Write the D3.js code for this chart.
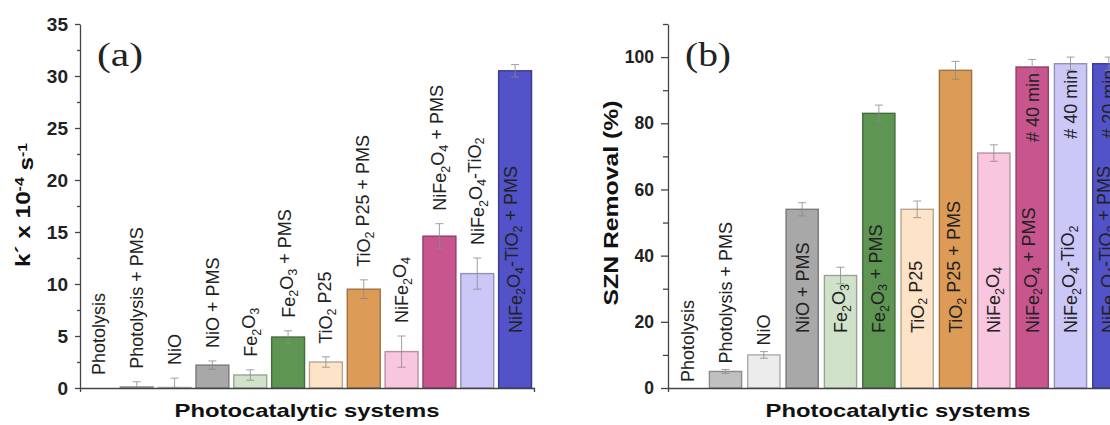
<!DOCTYPE html>
<html>
<head>
<meta charset="utf-8">
<script src="https://cdn.jsdelivr.net/npm/d3@7"></script>
<style>
  body { margin: 0; background: #fff; }
  svg { display: block; font-family: "Liberation Sans", Arial, sans-serif; }
</style>
</head>
<body>
<svg id="chart" width="1110" height="425"></svg>
<script>
// categories, "_" marks a subscript digit
var systems = ["Photolysis", "Photolysis + PMS", "NiO", "NiO + PMS", "Fe_2O_3",
  "Fe_2O_3 + PMS", "TiO_2 P25", "TiO_2 P25 + PMS", "NiFe_2O_4",
  "NiFe_2O_4 + PMS", "NiFe_2O_4-TiO_2", "NiFe_2O_4-TiO_2 + PMS"];

// panel (a): rate constant k' x 10^-4 s^-1
var kValues = [0, 0.1, 0.05, 2.2, 1.25, 4.9, 2.5, 9.5, 3.5, 14.6, 11.0, 30.5];
var kErrors = [0, 0.5, 0.9, 0.4, 0.5, 0.6, 0.5, 0.9, 1.5, 1.2, 1.5, 0.6];

// panel (b): SZN removal %
var removal = [0, 5, 10, 54, 34, 83, 54, 96, 71, 97, 98, 98];
var removalErr = [0, 0.6, 1, 2, 2.5, 2.5, 2.5, 2.7, 2.5, 2.3, 2, 2];
var removalNotes = ["", "", "", "", "", "", "", "", "", "# 40 min", "# 40 min", "# 20 min"];

var kTicks = [0, 5, 10, 15, 20, 25, 30, 35];
var kMinor = [2.5, 7.5, 12.5, 17.5, 22.5, 27.5, 32.5];
var remTicks = [0, 20, 40, 60, 80, 100];
var remMinor = [10, 30, 50, 70, 90, 110];

var colors = ["#ffffff", "#c0c0c0", "#ececec", "#a8a8a8", "#d1e2cb", "#5e9553",
  "#fde4c8", "#dc9b57", "#f8c6de", "#c9558f", "#cbc8f8", "#5252c9"];

var svg = d3.select("#chart");
var axisColor = "#444";

// writes a label with subscripts into a text element
function richText(sel, label, subShift) {
  var parts = label.split(/(_\d)/);
  var shifted = false;
  parts.forEach(function(p) {
    if (p === "") return;
    if (p[0] === "_") {
      sel.append("tspan").attr("dy", subShift).attr("font-size", "0.7em").text(p[1]);
      shifted = true;
    } else {
      var t = sel.append("tspan").text(p);
      if (shifted) { t.attr("dy", "-" + subShift); shifted = false; }
    }
  });
}

function drawPanel(opt) {
  var x = d3.scaleBand().domain(systems).range([opt.x0, opt.x1])
    .paddingInner(opt.padIn).paddingOuter(opt.padIn / 2);
  var y = d3.scaleLinear().domain([0, opt.yMax]).range([388, 24]);
  var g = svg.append("g");

  var data = systems.map(function(s, i) {
    return { name: s, v: opt.values[i], e: opt.errors[i], c: colors[i], note: opt.notes ? opt.notes[i] : "" };
  });

  // bars
  g.selectAll("rect.bar").data(data.filter(function(d) { return d.v > 0; }))
    .enter().append("rect")
    .attr("class", "bar")
    .attr("x", function(d) { return x(d.name); })
    .attr("width", x.bandwidth())
    .attr("y", function(d) { return y(d.v); })
    .attr("height", function(d) { return y(0) - y(d.v); })
    .attr("fill", function(d) { return d.c; })
    .attr("stroke", function(d) { return d3.color(d.c).darker(0.9); })
    .attr("stroke-width", 1.4);

  // error bars
  var eb = g.selectAll("g.err").data(data.filter(function(d) { return d.e > 0; }))
    .enter().append("g")
    .attr("stroke", "#8a8a8a").attr("stroke-width", 1).attr("opacity", 0.8);
  eb.append("line")
    .attr("x1", function(d) { return x(d.name) + x.bandwidth() / 2; })
    .attr("x2", function(d) { return x(d.name) + x.bandwidth() / 2; })
    .attr("y1", function(d) { return y(Math.max(0, d.v - d.e)); })
    .attr("y2", function(d) { return y(d.v + d.e); });
  [1, -1].forEach(function(sign) {
    eb.append("line")
      .attr("x1", function(d) { return x(d.name) + x.bandwidth() / 2 - 4; })
      .attr("x2", function(d) { return x(d.name) + x.bandwidth() / 2 + 4; })
      .attr("y1", function(d) { return y(Math.max(0, d.v + sign * d.e)); })
      .attr("y2", function(d) { return y(Math.max(0, d.v + sign * d.e)); });
  });

  // rotated category labels
  data.forEach(function(d) {
    var cx = x(d.name) + x.bandwidth() / 2;
    var base = opt.labelBase(d, y);
    var t = g.append("text")
      .attr("transform", "translate(" + cx + "," + base + ") rotate(-90)")
      .attr("dy", "0.36em")
      .attr("font-size", 18)
      .attr("fill", "#222");
    richText(t, d.name, "0.3em");
    if (d.note) {
      g.append("text")
        .attr("transform", "translate(" + cx + "," + (y(d.v) + 6) + ") rotate(-90)")
        .attr("dy", "0.36em")
        .attr("text-anchor", "end")
        .attr("font-size", 18)
        .attr("fill", "#222")
        .text(d.note);
    }
  });

  // axes
  var yAxis = g.append("g").attr("transform", "translate(" + opt.x0 + ",0)")
    .call(d3.axisLeft(y).tickValues(opt.ticks).tickSize(opt.tickLen).tickSizeOuter(0).tickPadding(7));
  yAxis.selectAll("text").attr("font-size", opt.tickFont).attr("font-weight", "bold").attr("fill", "#222");
  g.append("g").attr("transform", "translate(" + opt.x0 + ",0)")
    .call(d3.axisLeft(y).tickValues(opt.minor).tickSize(opt.tickLen - 2).tickFormat(""))
    .select(".domain").remove();
  g.append("g").attr("transform", "translate(0,388)")
    .call(d3.axisBottom(x).tickValues([]).tickSizeOuter(4));
  g.selectAll(".domain, .tick line").attr("stroke", axisColor).attr("stroke-width", 1.3);

  // titles
  g.append("text")
    .attr("x", opt.x0 + x.step() * 6)
    .attr("y", 417)
    .attr("text-anchor", "middle")
    .attr("font-size", 19).attr("font-weight", "bold").attr("fill", "#111")
    .attr("textLength", 265).attr("lengthAdjust", "spacingAndGlyphs")
    .text("Photocatalytic systems");

  var yt = g.append("text")
    .attr("transform", "translate(" + opt.titleX + "," + opt.titleY + ") rotate(-90)")
    .attr("text-anchor", "middle")
    .attr("font-size", 20).attr("font-weight", "bold").attr("fill", "#111")
    .attr("textLength", opt.titleLen).attr("lengthAdjust", "spacingAndGlyphs");
  opt.yTitle(yt);

  g.append("text")
    .attr("x", opt.x0 + 17).attr("y", 66)
    .attr("font-family", "'Liberation Serif', 'Times New Roman', serif")
    .attr("font-size", 34).attr("fill", "#222")
    .attr("textLength", 46).attr("lengthAdjust", "spacingAndGlyphs")
    .text(opt.tag);
}

drawPanel({
  x0: 80, x1: 534, padIn: 0.13, yMax: 35,
  values: kValues, errors: kErrors,
  ticks: kTicks, minor: kMinor, tickLen: 5, tickFont: 19,
  titleX: 30, titleY: 205, titleLen: 124, tag: "(a)",
  labelBase: function(d, y) {
    if (d.v > 20) return y(0) - 55;
    return Math.min(y(0) - 6, y(d.v + d.e) - 13);
  },
  yTitle: function(t) {
    t.append("tspan").text("k\u00b4 x 10");
    t.append("tspan").attr("dy", "-0.45em").attr("font-size", "0.65em").text("-4");
    t.append("tspan").attr("dy", "0.45em").text(" s");
    t.append("tspan").attr("dy", "-0.45em").attr("font-size", "0.65em").text("-1");
  }
});

drawPanel({
  x0: 668, x1: 1128, padIn: 0.16, yMax: 110,
  values: removal, errors: removalErr, notes: removalNotes,
  ticks: remTicks, minor: remMinor, tickLen: 7, tickFont: 17.5,
  titleX: 618, titleY: 203, titleLen: 205, tag: "(b)",
  labelBase: function(d, y) {
    return Math.max(y(0) - 55, Math.min(y(0) - 6, y(d.v + d.e) - 6));
  },
  yTitle: function(t) { t.text("SZN Removal (%)"); }
});
</script>
</body>
</html>
